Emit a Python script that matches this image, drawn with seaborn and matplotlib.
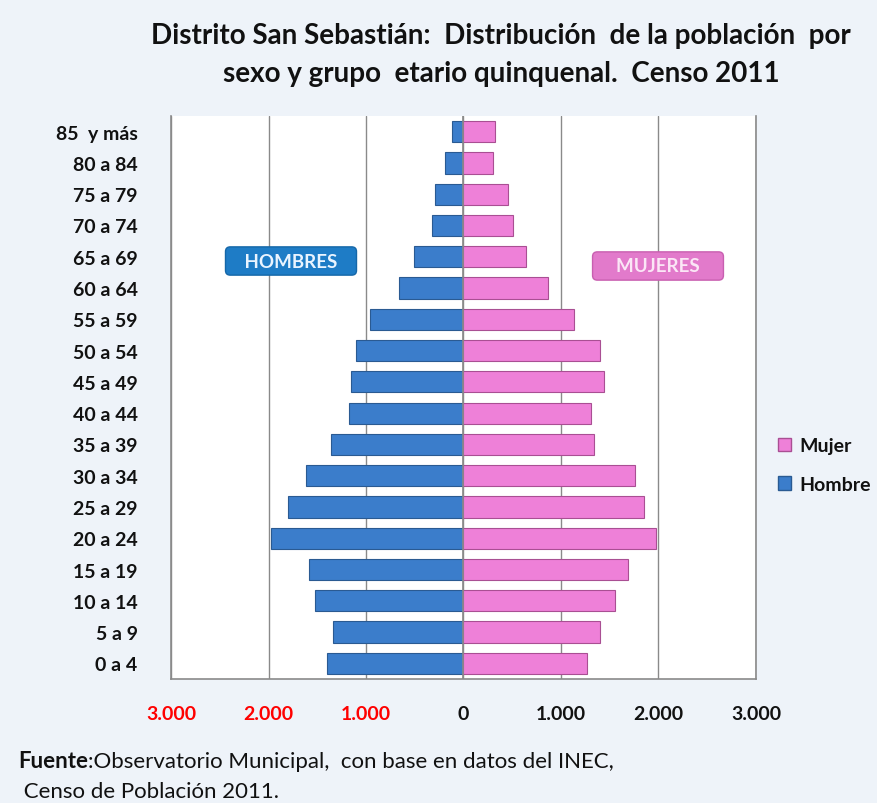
import pandas as pd
import matplotlib
matplotlib.use('Agg')
import matplotlib.pyplot as plt
from matplotlib.ticker import FuncFormatter, FixedLocator
from matplotlib.patches import Patch
import seaborn as sns

groups = ['85  y más', '80 a 84', '75 a 79', '70 a 74', '65 a 69', '60 a 64',
          '55 a 59', '50 a 54', '45 a 49', '40 a 44', '35 a 39', '30 a 34',
          '25 a 29', '20 a 24', '15 a 19', '10 a 14', '5 a 9', '0 a 4']
hombres = [119, 191, 291, 325, 507, 661, 962, 1100, 1154, 1171, 1360, 1613,
           1798, 1973, 1583, 1524, 1339, 1398]
mujeres = [326, 305, 452, 511, 641, 863, 1138, 1402, 1439, 1309, 1343, 1758,
           1850, 1977, 1686, 1549, 1402, 1268]
ticks = [-3000, -2000, -1000, 0, 1000, 2000, 3000]

blue = '#3B7DCB'
pink = '#EE80D8'
bg = '#EEF3F9'

df = pd.concat([
    pd.DataFrame({'grupo': groups, 'valor': [-v for v in hombres], 'sexo': 'Hombre'}),
    pd.DataFrame({'grupo': groups, 'valor': mujeres, 'sexo': 'Mujer'}),
])

sns.set_style('white')
plt.rcParams['font.family'] = ['Lato', 'DejaVu Sans']
plt.rcParams['text.color'] = '#111111'
plt.rcParams['xtick.color'] = '#111111'
plt.rcParams['ytick.color'] = '#111111'

fig = plt.figure(figsize=(8.78, 8.04), dpi=100, facecolor=bg)
ax = fig.add_axes([171 / 878, 1 - 680 / 804, (756 - 171) / 878, (680 - 117) / 804])

sns.barplot(data=df, y='grupo', x='valor', hue='sexo', order=groups,
            hue_order=['Hombre', 'Mujer'], palette={'Hombre': blue, 'Mujer': pink},
            dodge=False, width=0.68, orient='h', legend=False, ax=ax, saturation=1,
            edgecolor='#2a5a92', linewidth=0.8)
for bar in ax.patches:
    if bar.get_facecolor()[0] > 0.6:
        bar.set_edgecolor('#a94f93')

ax.set_xlim(-3000, 3000)
ax.xaxis.set_major_locator(FixedLocator(ticks))
ax.xaxis.set_major_formatter(FuncFormatter(lambda v, p: f'{abs(int(v)):,}'.replace(',', '.')))
ax.grid(axis='x', color='#8a8a8a', linewidth=1)
ax.set_axisbelow(True)
ax.axvline(0, color='#8a8a8a', linewidth=1.2, zorder=3)
ax.set_xlabel('')
ax.set_ylabel('')
ax.tick_params(axis='both', length=0, labelsize=14)
ax.tick_params(axis='x', pad=19)
ax.tick_params(axis='y', pad=24)
for lab in ax.get_xticklabels() + ax.get_yticklabels():
    lab.set_fontweight('bold')
for lab, v in zip(ax.get_xticklabels(), ticks):
    if v < 0:
        lab.set_color('red')
for side in ['left', 'bottom', 'right']:
    ax.spines[side].set_color('#8a8a8a')
    ax.spines[side].set_linewidth(1.2)
ax.spines['top'].set_visible(False)

fig.text(0.571, 0.972, 'Distrito San Sebastián:  Distribución  de la población  por\n'
         'sexo y grupo  etario quinquenal.  Censo 2011',
         ha='center', va='top', fontsize=20, fontweight='bold', linespacing=1.6)

# side labels
fig.text(291 / 878, 1 - 262 / 804, '   HOMBRES   ', ha='center', va='center', color='#eaf4ff',
         fontsize=13.5, fontweight='bold',
         bbox=dict(boxstyle='round,pad=0.3,rounding_size=0.25', fc='#1E7CC6', ec='#1567a8', lw=1))
fig.text(658 / 878, 1 - 267 / 804, '    MUJERES    ', ha='center', va='center', color='#fbe6f6',
         fontsize=13.5, fontweight='bold',
         bbox=dict(boxstyle='round,pad=0.3,rounding_size=0.25', fc='#E27ACB', ec='#c85fb0', lw=1))

handles = [Patch(facecolor=pink, edgecolor='#a94f93', label='Mujer'),
           Patch(facecolor=blue, edgecolor='#2a5a92', label='Hombre')]
fig.legend(handles=handles, loc='center left', bbox_to_anchor=(770 / 878, 1 - 466 / 804),
           frameon=False, prop={'weight': 'bold', 'size': 14}, handlelength=0.7,
           handleheight=0.7, handletextpad=0.4, labelspacing=1.1, borderaxespad=0)

t1 = fig.text(18 / 878, 1 - 762 / 804, 'Fuente', fontsize=16, fontweight='bold', va='center')
fig.canvas.draw()
bb = t1.get_window_extent()
fig.text(bb.x1 / 878, 1 - 762 / 804, ':Observatorio Municipal,  con base en datos del INEC,',
         fontsize=16, va='center')
fig.text(18 / 878, 1 - 792 / 804, ' Censo de Población 2011.', fontsize=16, va='center')

fig.savefig('out.png', dpi=100, facecolor=bg)
